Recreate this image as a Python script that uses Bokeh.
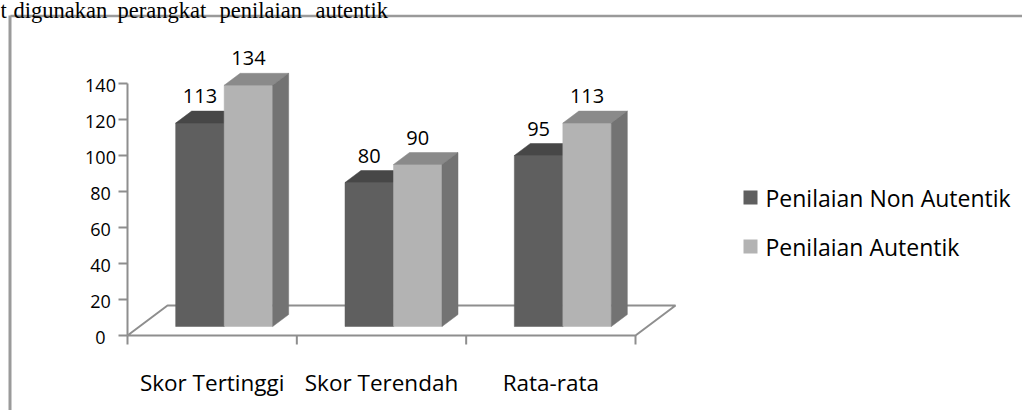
from bokeh.plotting import figure
from bokeh.core.properties import value
from bokeh.embed import file_html
from bokeh.resources import INLINE

# ---------------- data ----------------
categories = ["Skor Tertinggi", "Skor Terendah", "Rata-rata"]
non_autentik = [113, 80, 95]
autentik = [134, 90, 113]
series_names = ["Penilaian  Non Autentik", "Penilaian Autentik"]
y_ticks = [0, 20, 40, 60, 80, 100, 120, 140]
heading_words = ["t", "digunakan", "perangkat", "penilaian", "autentik"]
heading_x_px = [0, 13, 117, 219, 315]

# ---------------- layout (picture pixels) ----------------
W, H = 1022, 410
OX, OY = 0, 0
X0_PX, Y0_PX = 127, 335          # front-left corner of the floor
CAT_PX = (635 - 127) / 3.0       # width of one category
UNIT_PX = 1.8                    # pixels per value unit
DEPTH_DX_PX, DEPTH_DY_PX = 40, 30

x_start = -(X0_PX - OX) / CAT_PX
x_end = x_start + W / CAT_PX
y_start = -(OY + H - Y0_PX) / UNIT_PX
y_end = y_start + H / UNIT_PX


def px_x(page_x):
    return x_start + (page_x - OX) / CAT_PX


def px_y(page_y):
    return y_end - (page_y - OY) / UNIT_PX


DX = DEPTH_DX_PX / CAT_PX
DY = DEPTH_DY_PX / UNIT_PX


def proj(x, v, z):
    return x + z * DX, v + z * DY


FONT = value("Open Sans")
GRID_C = "#8e8e8e"
colors = {
    0: dict(front="#5f5f5f", top="#474747", side="#4f4f4f", legend="#5f5f5f"),
    1: dict(front="#b3b3b3", top="#8a8a8a", side="#737373", legend="#b3b3b3"),
}

p = figure(width=W, height=H, x_range=(x_start, x_end), y_range=(y_start, y_end),
           output_backend="svg", toolbar_location=None, min_border=0,
           x_axis_type=None, y_axis_type=None)
p.xgrid.visible = False
p.ygrid.visible = False
p.outline_line_color = None
p.background_fill_color = "white"
p.border_fill_color = "white"

# ---------------- frame border & heading ----------------
p.line([px_x(10), px_x(1040)], [px_y(15.5), px_y(15.5)], line_color="#9a9a9a", line_width=2.5)
p.line([px_x(9.5), px_x(9.5)], [px_y(15), px_y(430)], line_color="#9a9a9a", line_width=3)
p.text(x=[px_x(v) for v in heading_x_px], y=[px_y(10)] * len(heading_words), text=heading_words,
       text_font=value("Liberation Serif"), text_font_size="22.5px", text_color="black",
       text_baseline="alphabetic", text_align="left")

# ---------------- floor ----------------
n = len(categories)
fl = [proj(0, 0, 0), proj(n, 0, 0), proj(n, 0, 1), proj(0, 0, 1), proj(0, 0, 0)]
p.line([a for a, b in fl], [b for a, b in fl], line_color=GRID_C, line_width=2)
# category ticks
tick_len = 9 / UNIT_PX
p.segment(x0=list(range(n + 1)), y0=[0] * (n + 1), x1=list(range(n + 1)), y1=[-tick_len] * (n + 1),
          line_color=GRID_C, line_width=2)

# ---------------- value axis ----------------
p.line([0, 0], [0, max(y_ticks)], line_color=GRID_C, line_width=2)
ytl = 9 / CAT_PX
p.segment(x0=[0] * len(y_ticks), y0=y_ticks, x1=[-ytl] * len(y_ticks), y1=y_ticks,
          line_color=GRID_C, line_width=2)
p.text(x=[px_x(100)] * len(y_ticks), y=y_ticks, text=[str(t) for t in y_ticks],
       text_font=FONT, text_font_size="18px", text_color="black",
       text_align="center", text_baseline="middle", y_offset=2)

# ---------------- bars ----------------
BAR_W = 48.5 / CAT_PX
GAP = (1 - 2 * BAR_W) / 2
Z0, Z1 = 0.3, 0.7
xs, ys, fills = [], [], []
lab_x, lab_y, lab_t = [], [], []
for s, vals in enumerate([non_autentik, autentik]):
    for i, v in enumerate(vals):
        x0 = i + GAP + s * BAR_W
        x1 = x0 + BAR_W
        faces = [
            ([proj(x0, 0, Z0), proj(x1, 0, Z0), proj(x1, v, Z0), proj(x0, v, Z0)], colors[s]["front"]),
            ([proj(x0, v, Z0), proj(x1, v, Z0), proj(x1, v, Z1), proj(x0, v, Z1)], colors[s]["top"]),
            ([proj(x1, 0, Z0), proj(x1, 0, Z1), proj(x1, v, Z1), proj(x1, v, Z0)], colors[s]["side"]),
        ]
        for pts, c in faces:
            xs.append([a for a, b in pts])
            ys.append([b for a, b in pts])
            fills.append(c)
        cx, _ = proj((x0 + x1) / 2, v, Z0)
        _, ty = proj(x0, v, Z1)
        lab_x.append(cx)
        lab_y.append(ty)
        lab_t.append(str(v))

p.patches(xs=xs, ys=ys, fill_color=fills, line_color=fills, line_width=0.5)
p.text(x=lab_x, y=lab_y, text=lab_t, text_font=FONT, text_font_size="20px", text_color="black",
       text_align="center", text_baseline="middle", y_offset=-15)

# ---------------- category labels ----------------
p.text(x=[i + 0.5 for i in range(n)], y=[-(382 - Y0_PX) / UNIT_PX] * n, text=categories,
       text_font=FONT, text_font_size="22.5px", text_color="black",
       text_align="center", text_baseline="middle")

# ---------------- legend ----------------
leg_y = [197, 246]
p.rect(x=[px_x(750)] * 2, y=[px_y(v) for v in leg_y], width=14, height=14,
       width_units="screen", height_units="screen",
       fill_color=[colors[0]["legend"], colors[1]["legend"]], line_color=None)
p.text(x=[px_x(765)] * 2, y=[px_y(v) for v in leg_y], text=series_names,
       text_font=FONT, text_font_size="23px", text_color="black",
       text_align="left", text_baseline="middle")

open("out.html", "w").write(file_html(p, INLINE))
